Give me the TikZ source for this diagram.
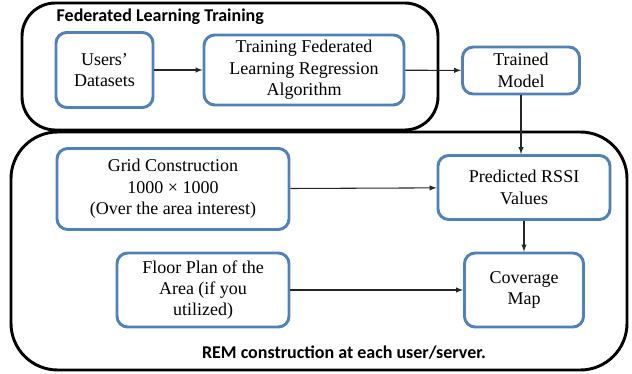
\documentclass[tikz,border=0pt]{standalone}
\usepackage{fontspec}
\setmainfont{Liberation Serif}
\newfontfamily\labelfont{Carlito}
\usetikzlibrary{positioning}

\definecolor{boxblue}{RGB}{79,129,189}

\begin{document}
\begin{tikzpicture}[x=0.75pt, y=-0.75pt, >=latex,
  every step/.style={draw=boxblue, line width=2.2pt, rounded corners=8pt,
    align=center, inner sep=2pt, fill=white,
    font=\fontsize{13.5}{16}\selectfont},
  every frame/.style={draw=black, line width=2.2pt},
  every title/.style={font=\labelfont\bfseries\fontsize{13.5}{16}\selectfont},
  every link/.style={->, line width=0.8pt, draw=black!85}]

\useasboundingbox (0,0) rectangle (632,374);

% outer frames
\draw [every frame/.try, rounded corners=35pt] (11,132) rectangle (627,370);
\draw [every frame/.try, rounded corners=25pt] (22,3) rectangle (438,130);

\node [every title/.try, anchor=west] (fl-title) at (52,17) {Federated Learning Training};
\node [every title/.try] (rem-title) at (344,353) {REM construction at each user/server.};

% training part
\node [every step/.try, minimum width=97pt*0.75, minimum height=75pt*0.75]
  (users) at (104.5,70) {Users'\\Datasets};
\node [every step/.try, minimum width=200pt*0.75, minimum height=70pt*0.75]
  (training) at (304,70) {Training Federated\\Learning Regression\\Algorithm};
\node [every step/.try, minimum width=117pt*0.75, minimum height=47pt*0.75]
  (trained) at (521,70.5) {Trained\\Model};

% REM part
\node [every step/.try, minimum width=232pt*0.75, minimum height=81pt*0.75]
  (grid) at (173,189) {Grid Construction\\1000 × 1000\\(Over the area interest)};
\node [every step/.try, minimum width=172pt*0.75, minimum height=64pt*0.75]
  (predicted) at (524,187.5) {Predicted RSSI\\Values};
\node [every step/.try, minimum width=172pt*0.75, minimum height=74pt*0.75]
  (floor) at (203,290) {Floor Plan of the\\Area (if you\\utilized)};
\node [every step/.try, minimum width=119pt*0.75, minimum height=74pt*0.75]
  (coverage) at (524,290) {Coverage\\Map};

\foreach \a/\b in {users/training, training/trained, grid/predicted, floor/coverage}
  \draw [every link/.try] (\a) -- (\b);

\draw [every link/.try] (trained) -- (trained |- predicted.north);
\draw [every link/.try] (predicted) -- (coverage);

\end{tikzpicture}
\end{document}
